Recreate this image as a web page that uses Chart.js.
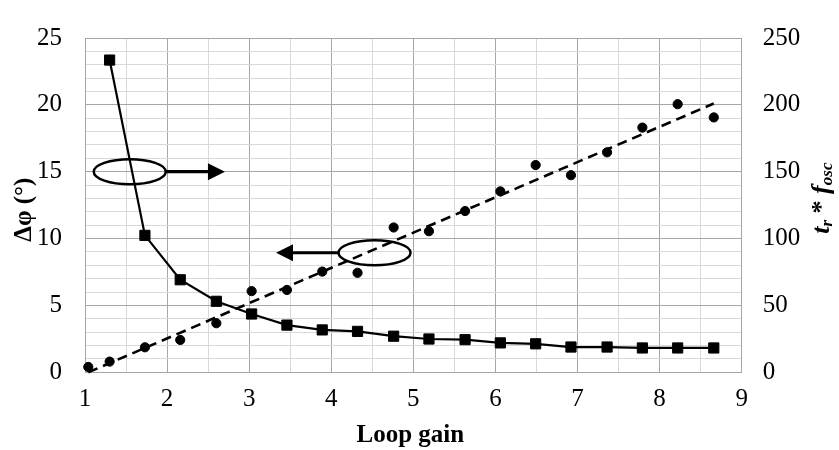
<!DOCTYPE html>
<html>
<head>
<meta charset="utf-8">
<script src="https://cdn.jsdelivr.net/npm/chart.js@4/dist/chart.umd.min.js"></script>
<style>
  html, body { margin: 0; padding: 0; background: #ffffff; }
  canvas { display: block; }
</style>
</head>
<body>
<canvas id="chart" width="839" height="450"></canvas>
<script>
// Loop gain sweep: phase error (left axis) and rise time x oscillation frequency (right axis)
const gain      = [1.04, 1.30, 1.73, 2.16, 2.60, 3.03, 3.46, 3.89, 4.32, 4.76, 5.19, 5.63, 6.06, 6.49, 6.92, 7.36, 7.79, 8.22, 8.66];
const phaseDiff = [0.40, 0.80, 1.87, 2.42, 3.67, 6.07, 6.16, 7.53, 7.44, 10.83, 10.55, 12.06, 13.53, 15.50, 14.74, 16.45, 18.30, 20.05, 19.06];

const gainRise  = [1.30, 1.73, 2.16, 2.60, 3.03, 3.46, 3.89, 4.32, 4.76, 5.19, 5.63, 6.06, 6.49, 6.92, 7.36, 7.79, 8.22, 8.66];
const riseOsc   = [233.5, 102.4, 69.2, 53.1, 43.6, 35.3, 31.7, 30.6, 27.0, 24.9, 24.4, 22.0, 21.3, 18.9, 18.9, 18.2, 18.2, 18.2];

// Linear trend of the phase error (end points)
const trendGain  = [1.04, 8.66];
const trendPhase = [0.0, 20.1];

// Axis ranges and label steps
const xRange  = [1, 9];
const yRange  = [0, 25];
const y2Range = [0, 250];
const xLabelStep = 1, yLabelStep = 5, y2LabelStep = 50;

// Ellipse callouts with arrows pointing toward the axis each curve belongs to
const callouts = [
  { gain: 1.545, phase: 15.0, tipGain: 2.705 },
  { gain: 4.527, phase: 8.94, tipGain: 3.327 }
];

const pts = (xs, ys) => xs.map((x, i) => ({ x: x, y: ys[i] }));

const SERIF = "'Liberation Serif', 'Times New Roman', serif";
const MAJOR = '#a6a6a6';
const MINOR = '#d9d9d9';

const calloutPlugin = {
  id: 'callouts',
  afterDatasetsDraw(chart) {
    const ctx = chart.ctx;
    const xs = chart.scales.x, ys = chart.scales.y;
    const rx = 36, ry = 12.5, head = 17, half = 8.5;
    ctx.save();
    ctx.strokeStyle = '#000';
    ctx.fillStyle = '#000';
    callouts.forEach(c => {
      const cx = xs.getPixelForValue(c.gain);
      const cy = ys.getPixelForValue(c.phase);
      const tx = xs.getPixelForValue(c.tipGain);
      const dir = tx > cx ? 1 : -1;
      ctx.lineWidth = 2.5;
      ctx.beginPath();
      ctx.ellipse(cx, cy, rx, ry, 0, 0, Math.PI * 2);
      ctx.stroke();
      ctx.lineWidth = 3.2;
      ctx.beginPath();
      ctx.moveTo(cx + dir * rx, cy);
      ctx.lineTo(tx - dir * head, cy);
      ctx.stroke();
      ctx.beginPath();
      ctx.moveTo(tx, cy);
      ctx.lineTo(tx - dir * head, cy - half);
      ctx.lineTo(tx - dir * head, cy + half);
      ctx.closePath();
      ctx.fill();
    });
    ctx.restore();
  }
};

const titlePlugin = {
  id: 'axisTitles',
  afterDraw(chart) {
    const ctx = chart.ctx;
    const a = chart.chartArea;
    ctx.save();
    ctx.fillStyle = '#000';

    // bottom title
    ctx.font = 'bold 25px ' + SERIF;
    ctx.textAlign = 'center';
    ctx.textBaseline = 'alphabetic';
    ctx.fillText('Loop gain', (a.left + a.right) / 2 - 3, a.bottom + 69.4);

    // left title
    ctx.save();
    ctx.translate(a.left - 60, (a.top + a.bottom) / 2 + 4.5);
    ctx.rotate(-Math.PI / 2);
    ctx.textAlign = 'center';
    ctx.textBaseline = 'middle';
    ctx.font = 'bold 25px ' + SERIF;
    ctx.fillText('\u0394\u03c6 (\u00b0)', 0, 0);
    ctx.restore();

    // right title with subscripts
    const parts = [
      { t: 't',   f: 'italic bold 26px ' + SERIF, dy: 0 },
      { t: 'r',   f: 'italic bold 17px ' + SERIF, dy: 5 },
      { t: ' * ', f: 'bold 26px ' + SERIF, dy: 0 },
      { t: 'f',   f: 'italic bold 26px ' + SERIF, dy: 0 },
      { t: 'osc', f: 'italic bold 17px ' + SERIF, dy: 5 }
    ];
    let total = 0;
    parts.forEach(p => { ctx.font = p.f; p.w = ctx.measureText(p.t).width; total += p.w; });
    ctx.save();
    ctx.translate(a.right + 81, (a.top + a.bottom) / 2 - 7);
    ctx.rotate(-Math.PI / 2);
    ctx.textAlign = 'left';
    ctx.textBaseline = 'middle';
    let px = -total / 2;
    parts.forEach(p => {
      ctx.font = p.f;
      ctx.fillText(p.t, px, p.dy);
      px += p.w;
    });
    ctx.restore();

    ctx.restore();
  }
};

new Chart(document.getElementById('chart'), {
  type: 'scatter',
  data: {
    datasets: [
      {
        label: 'Phase error',
        data: pts(gain, phaseDiff),
        yAxisID: 'y',
        showLine: false,
        pointStyle: 'circle',
        pointRadius: 4.6,
        pointBorderWidth: 1,
        backgroundColor: '#000',
        borderColor: '#000',
        clip: false
      },
      {
        label: 'Phase error trend',
        data: pts(trendGain, trendPhase),
        yAxisID: 'y',
        showLine: true,
        borderDash: [10, 6],
        borderWidth: 2.6,
        borderColor: '#000',
        pointRadius: 0,
        clip: false
      },
      {
        label: 'tr x fosc',
        data: pts(gainRise, riseOsc),
        yAxisID: 'y2',
        showLine: true,
        borderWidth: 2.2,
        borderColor: '#000',
        backgroundColor: '#000',
        pointStyle: 'rect',
        pointRadius: 7.2,
        pointBorderWidth: 1,
        tension: 0,
        clip: false
      }
    ]
  },
  options: {
    responsive: false,
    animation: false,
    layout: { padding: { top: 20.7, left: 0, right: 0, bottom: 0 } },
    plugins: { legend: { display: false }, tooltip: { enabled: false } },
    scales: {
      x: {
        type: 'linear',
        min: xRange[0], max: xRange[1],
        afterFit: s => { s.height = 77.7; },
        ticks: {
          stepSize: 0.5,
          autoSkip: false,
          maxRotation: 0,
          padding: 12,
          color: '#000',
          font: { family: SERIF, size: 25 },
          callback: v => (Math.abs(v / xLabelStep - Math.round(v / xLabelStep)) < 1e-6 ? String(v) : '')
        },
        grid: {
          drawTicks: false,
          color: c => (Math.abs(c.tick.value % xLabelStep) < 1e-6 ? MAJOR : MINOR),
          lineWidth: 1
        },
        border: { color: MAJOR, width: 1 }
      },
      y: {
        type: 'linear',
        position: 'left',
        min: yRange[0], max: yRange[1],
        afterFit: s => { s.width = 85; },
        ticks: {
          stepSize: 1,
          autoSkip: false,
          padding: 23,
          color: '#000',
          font: { family: SERIF, size: 25 },
          callback: v => (v % yLabelStep === 0 ? String(v) : '')
        },
        grid: {
          drawTicks: false,
          color: c => (c.tick.value % yLabelStep === 0 ? MAJOR : MINOR),
          lineWidth: 1
        },
        border: { color: MAJOR, width: 1 }
      },
      y2: {
        type: 'linear',
        position: 'right',
        min: y2Range[0], max: y2Range[1],
        afterFit: s => { s.width = 97.3; },
        ticks: {
          stepSize: y2LabelStep,
          padding: 21,
          color: '#000',
          font: { family: SERIF, size: 25 }
        },
        grid: { drawOnChartArea: false, drawTicks: false },
        border: { color: MAJOR, width: 1 }
      }
    }
  },
  plugins: [calloutPlugin, titlePlugin]
});
</script>
</body>
</html>
